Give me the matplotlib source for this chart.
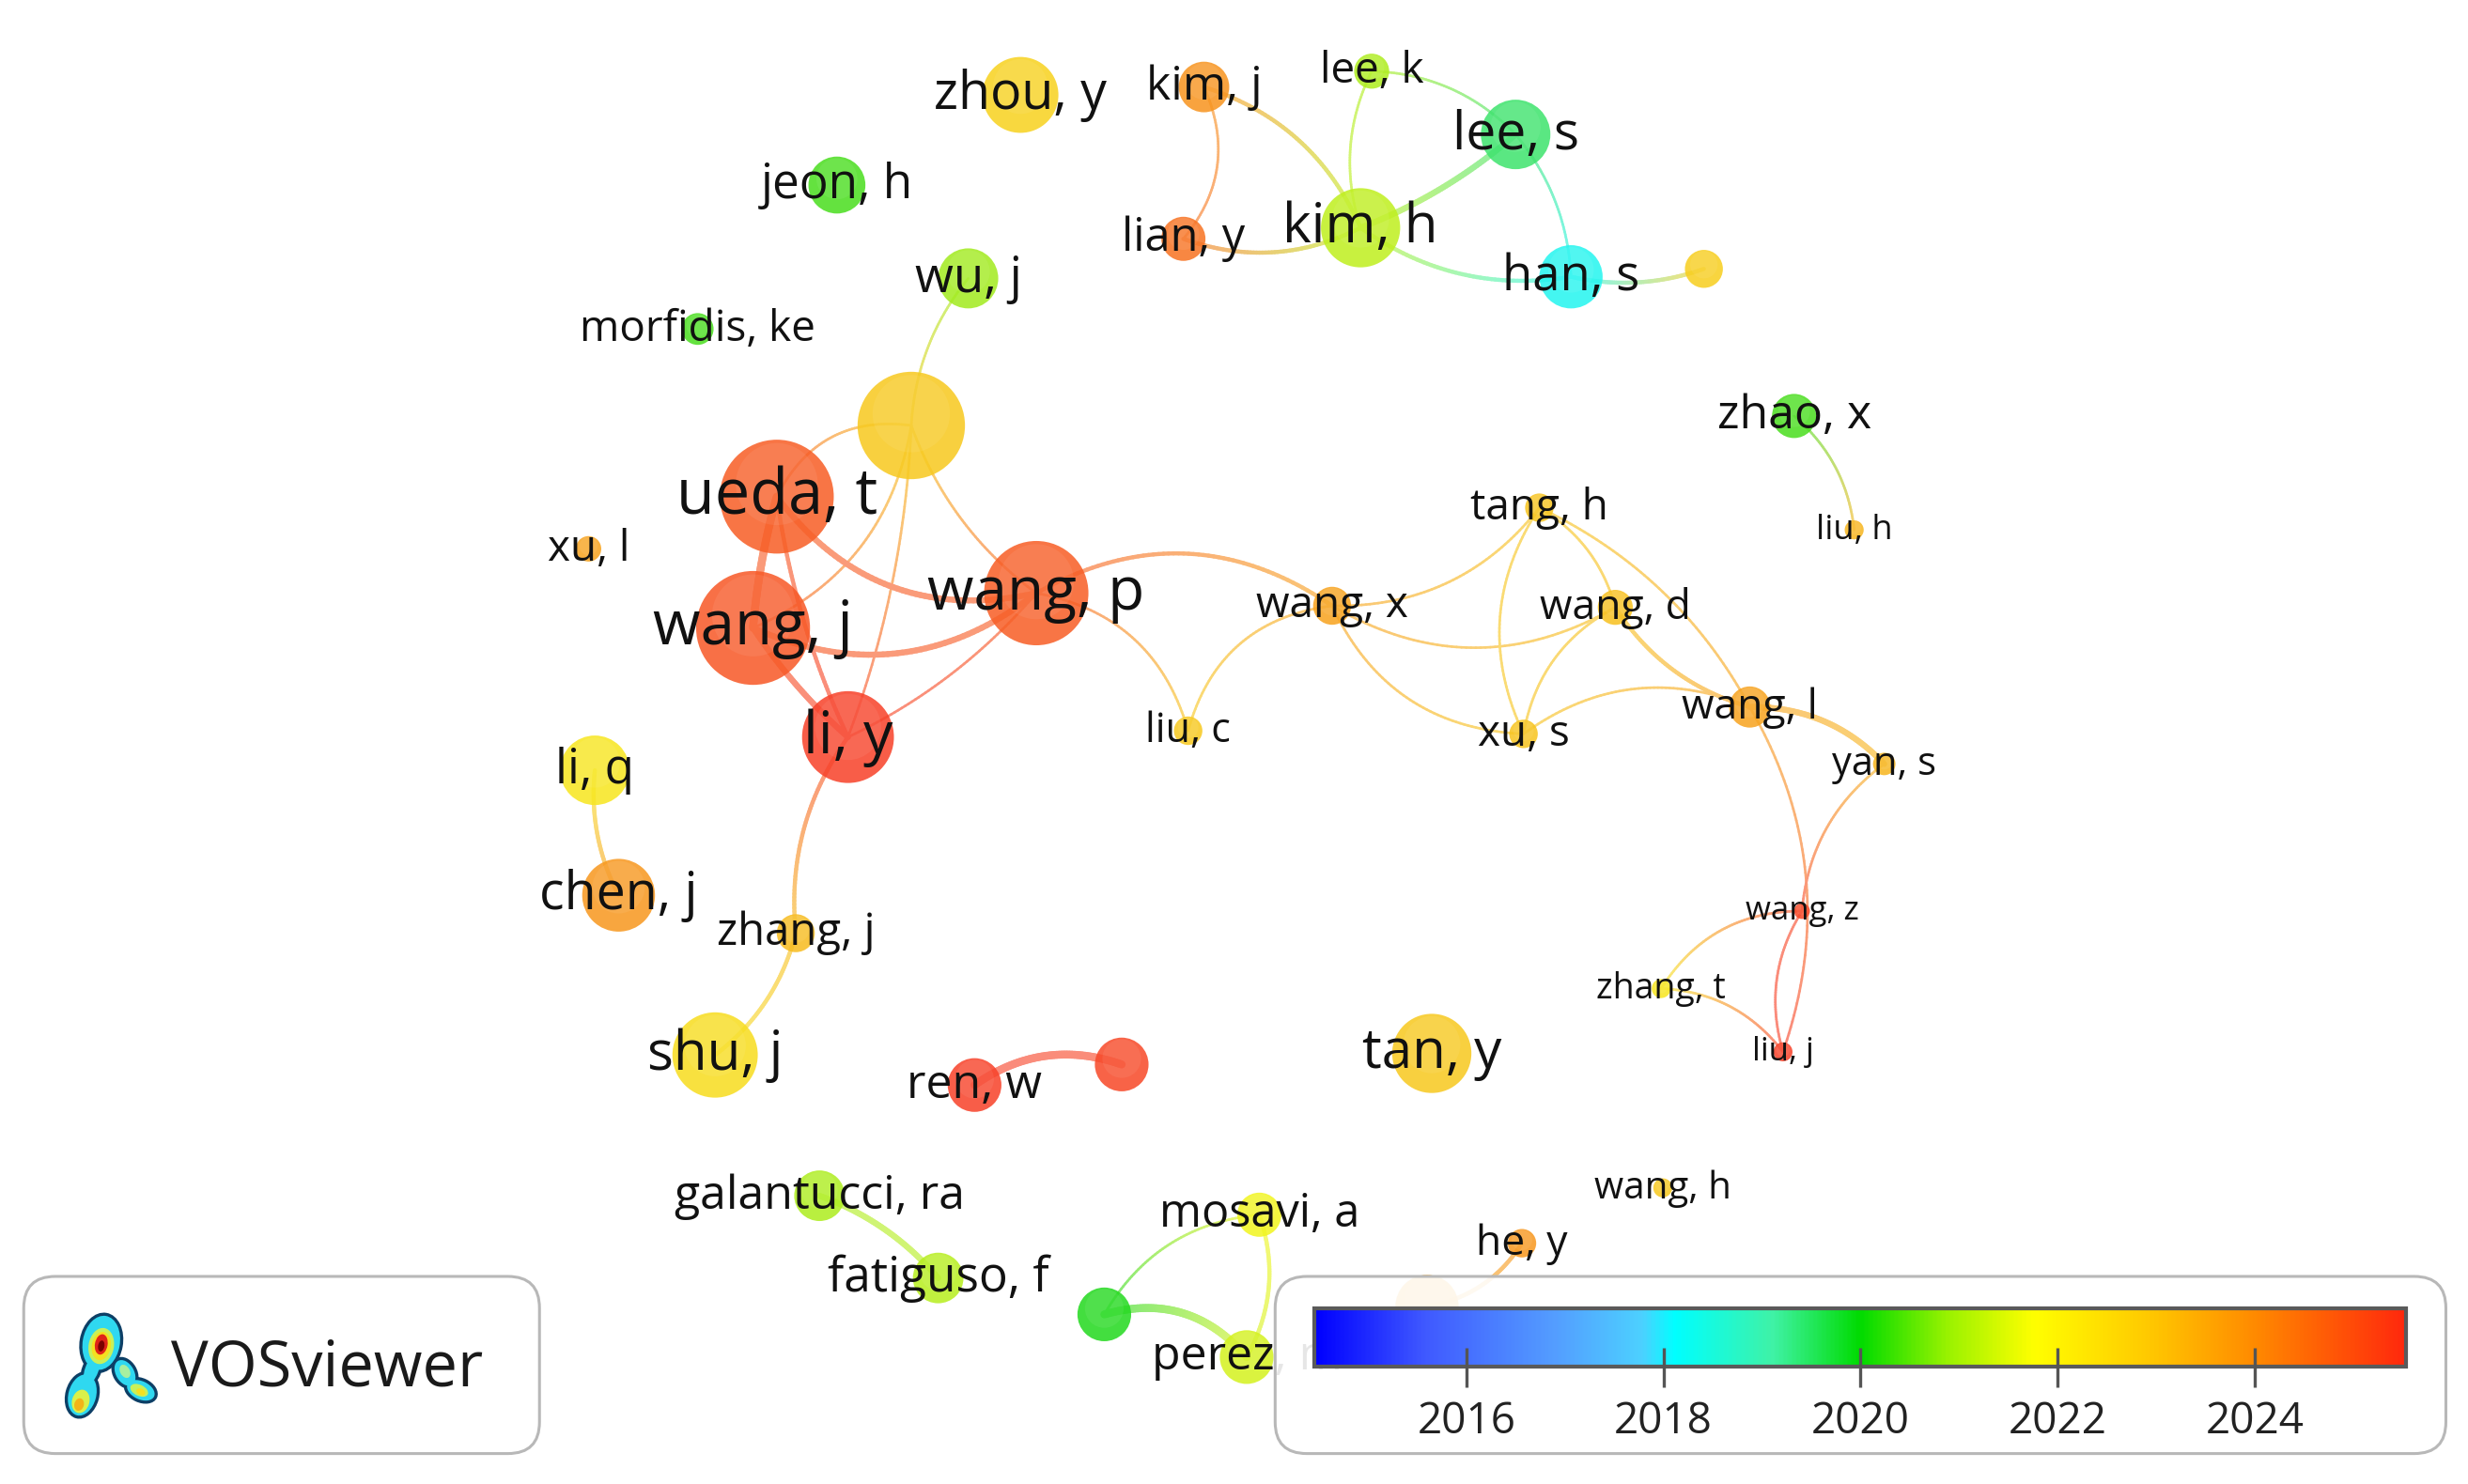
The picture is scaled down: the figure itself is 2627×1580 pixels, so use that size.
import numpy as np
import matplotlib
matplotlib.use("Agg")
import matplotlib.pyplot as plt
from matplotlib.patches import Circle, Ellipse, FancyBboxPatch, Rectangle
from matplotlib.collections import LineCollection
from matplotlib.colors import LinearSegmentedColormap

plt.rcParams['font.family'] = ['Open Sans', 'DejaVu Sans']

# ---------------- data (VOSviewer overlay: co-authorship, avg. publication year) ----------------
node_id = ["zhou, y", "kim, j", "lee, k", "lee, s", "jeon, h", "lian, y", "kim, h", "han, s", "U1",
           "wu, j", "morfidis, ke", "BIG", "zhao, x", "ueda, t", "tang, h", "liu, h", "xu, l",
           "wang, p", "wang, x", "wang, d", "wang, j", "wang, l", "liu, c", "xu, s", "li, y",
           "li, q", "yan, s", "chen, j", "wang, z", "zhang, j", "zhang, t", "liu, j", "shu, j",
           "tan, y", "ren, w", "R", "wang, h", "galantucci, ra", "mosavi, a", "he, y",
           "fatiguso, f", "G", "perez, m", "H"]
labels = ["zhou, y", "kim, j", "lee, k", "lee, s", "jeon, h", "lian, y", "kim, h", "han, s", "",
          "wu, j", "morfidis, ke", "", "zhao, x", "ueda, t", "tang, h", "liu, h", "xu, l",
          "wang, p", "wang, x", "wang, d", "wang, j", "wang, l", "liu, c", "xu, s", "li, y",
          "li, q", "yan, s", "chen, j", "wang, z", "zhang, j", "zhang, t", "liu, j", "shu, j",
          "tan, y", "ren, w", "", "wang, h", "galantucci, ra", "mosavi, a", "he, y",
          "fatiguso, f", "", "perez, m", ""]
# layout coordinates (map units)
node_x = [645, 761, 867, 958, 529, 748, 860, 993, 1077,
          612, 441, 576, 1134, 491, 973, 1172, 372,
          655, 842, 1021, 476, 1106, 751, 963, 536,
          376, 1191, 391, 1139, 503, 1050, 1127, 452,
          905, 616, 709, 1051, 518, 796, 962,
          593, 698, 788, 902]
node_y = [60, 55, 45, 85, 117, 151, 144, 175, 170,
          176, 208, 269, 263, 314, 321, 335, 347,
          375, 383, 384, 397, 447, 462, 464, 466,
          487, 483, 566, 576, 590, 625, 665, 667,
          666, 686, 673, 751, 756, 768, 786,
          808, 831, 858, 826]
# node weight (documents)
node_weight = [16, 7.1, 3.4, 13.4, 9, 5.4, 17.4, 11.1, 4,
               10, 2.8, 32, 5.4, 36, 2.25, 1, 1.8,
               30.2, 4, 3.4, 36, 4.7, 2.25, 2.25, 23.4,
               13.4, 1.4, 14.7, 0.7, 4, 1, 1, 20.2,
               17.4, 8, 8, 1, 7.1, 5.4, 2.25,
               7.1, 8, 8, 11.1]
avg_year = [2022.7, 2024.0, 2021.0, 2019.5, 2020.3, 2024.6, 2021.2, 2018.2, 2022.8,
            2020.9, 2020.3, 2022.9, 2020.3, 2025.0, 2023.0, 2023.3, 2023.7,
            2025.0, 2023.7, 2023.1, 2025.1, 2023.7, 2022.9, 2023.0, 2025.5,
            2022.2, 2023.3, 2023.9, 2025.4, 2023.2, 2022.2, 2025.5, 2022.4,
            2022.9, 2025.5, 2025.4, 2022.9, 2021.0, 2021.7, 2023.9,
            2021.1, 2020.0, 2021.4, 2023.6]
label_size = [40, 36, 33, 41, 37, 35, 42, 38, 0,
              38, 33, 0, 36, 48, 33, 26, 33,
              46, 33, 32, 47, 32, 31, 33, 45,
              37, 30, 40, 25, 34, 27, 25, 42,
              42, 36, 0, 29, 36, 35, 32,
              37, 0, 36, 0]

link_source = ["kim, j", "lian, y", "kim, j", "lee, k", "lee, k", "kim, h", "lee, s", "kim, h", "han, s",
               "wu, j", "BIG", "BIG", "BIG", "BIG", "ueda, t", "ueda, t", "wang, j", "wang, j",
               "ueda, t", "wang, p", "li, y", "zhang, j", "li, q", "wang, p", "wang, p", "wang, x",
               "wang, x", "wang, x", "wang, x", "tang, h", "tang, h", "tang, h", "wang, d", "wang, d",
               "xu, s", "wang, l", "wang, l", "yan, s", "wang, z", "wang, z", "zhang, t", "zhao, x",
               "ren, w", "galantucci, ra", "mosavi, a", "mosavi, a", "G", "he, y"]
link_target = ["lian, y", "kim, h", "kim, h", "kim, h", "lee, s", "lee, s", "han, s", "han, s", "U1",
               "BIG", "ueda, t", "wang, j", "li, y", "wang, p", "wang, j", "wang, p", "wang, p", "li, y",
               "li, y", "li, y", "zhang, j", "shu, j", "chen, j", "wang, x", "liu, c", "liu, c",
               "tang, h", "wang, d", "xu, s", "xu, s", "wang, d", "wang, l", "xu, s", "wang, l",
               "wang, l", "yan, s", "liu, j", "wang, z", "liu, j", "zhang, t", "liu, j", "liu, h",
               "R", "fatiguso, f", "G", "perez, m", "perez, m", "H"]
link_strength = [1, 2, 2, 1, 1, 3, 1, 2, 2,
                 1, 1, 1, 1, 1, 4, 3, 3, 3,
                 2, 1, 2, 2, 2, 2, 1, 1,
                 1, 1, 1, 1, 1, 1, 1, 2,
                 1, 3, 1, 1, 1, 1, 1, 1,
                 4, 3, 1, 2, 4, 2]

year_ticks = [2016, 2018, 2020, 2022, 2024]
year_min, year_max = 2014.46, 2025.54

# ---------------- styles ----------------
link_bend = [-15, 12, -15, 10, -10, 5, -8, 14, 6,
             8, 17, -22, -8, 10, 2, 28, 27, 3,
             6, -8, 12, -8, 6, -29, -20, 20,
             18, 26, 22, 20, -8, -15, 12, 10,
             -20, -10, -25, 12, 10, 14, -10, -8,
             -12, -6, 15, -10, -15, -8]

S = 1.684                      # output pixels per map unit
W, H = 2627 / S, 1580 / S

cmap = LinearSegmentedColormap.from_list("vos", [
    (0.00, (0.00, 0.00, 1.00)),
    (0.10, (0.25, 0.35, 1.00)),
    (0.22, (0.33, 0.62, 1.00)),
    (0.30, (0.30, 0.82, 1.00)),
    (0.33, (0.00, 1.00, 1.00)),
    (0.42, (0.25, 0.95, 0.65)),
    (0.50, (0.00, 0.86, 0.00)),
    (0.58, (0.60, 0.95, 0.00)),
    (0.66, (1.00, 1.00, 0.00)),
    (0.76, (1.00, 0.80, 0.00)),
    (0.86, (1.00, 0.55, 0.00)),
    (1.00, (1.00, 0.16, 0.05)),
])


def year_color(y):
    c = np.array(cmap((y - year_min) / (year_max - year_min))[:3])
    return 0.84 * c + 0.16 * np.array([0.80, 0.78, 0.76])


fig = plt.figure(figsize=(26.27, 15.80), dpi=100)
ax = fig.add_axes([0, 0, 1, 1])
ax.set_xlim(0, W)
ax.set_ylim(H, 0)
ax.axis("off")

idx = {n: i for i, n in enumerate(node_id)}
ncol = [year_color(y) for y in avg_year]
nrad = [6.0 * np.sqrt(w) for w in node_weight]

# ---- links ----
t = np.linspace(0, 1, 60)
for s, tg, st, bend in zip(link_source, link_target, link_strength, link_bend):
    i, j = idx[s], idx[tg]
    p0 = np.array([node_x[i], node_y[i]], float)
    p2 = np.array([node_x[j], node_y[j]], float)
    d = p2 - p0
    L = np.hypot(*d)
    nrm = np.array([-d[1], d[0]]) / L
    p1 = (p0 + p2) / 2 + 2 * bend * nrm
    pts = ((1 - t)[:, None] ** 2) * p0 + (2 * (1 - t) * t)[:, None] * p1 + (t[:, None] ** 2) * p2
    segs = np.stack([pts[:-1], pts[1:]], axis=1)
    tm = (t[:-1] + t[1:]) / 2
    cols = (1 - tm)[:, None] * ncol[i] + tm[:, None] * ncol[j]
    cols = 1 - 0.62 * (1 - cols)
    lw_units = {1: 1.6, 2: 2.6, 3: 3.8, 4: 5.0}[st]
    lc = LineCollection(segs, colors=cols, linewidths=lw_units * S * 0.72,
                        capstyle="round", zorder=1)
    ax.add_collection(lc)

# ---- nodes ----
for k in range(len(node_id)):
    ax.add_patch(Circle((node_x[k], node_y[k]), nrad[k], facecolor=ncol[k],
                        edgecolor="none", alpha=0.86, zorder=2))
    ax.add_patch(Circle((node_x[k], node_y[k] - 0.22 * nrad[k]), 0.72 * nrad[k],
                        facecolor="white", edgecolor="none", alpha=0.07, zorder=2))

# ---- labels ----
for k in range(len(node_id)):
    if not labels[k]:
        continue
    fs = label_size[k]
    em = fs * 100 / 72 / S
    ax.text(node_x[k], node_y[k] + 0.27 * em, labels[k], ha="center", va="baseline",
            fontsize=fs, color="#111111", zorder=3)

# ---- VOSviewer badge ----
ax.add_patch(FancyBboxPatch((15, 807), 326, 112, boxstyle="round,pad=0,rounding_size=20",
                            facecolor=(1, 1, 1, 0.92), edgecolor=(0.72, 0.72, 0.72, 1),
                            linewidth=2.2, zorder=5))
blobs = [((64, 849), 25, 36, 10), ((52, 882), 19, 28, 15), ((79, 868), 13, 19, -30),
         ((89, 879), 20, 13, 25), ((58, 866), 10, 22, 20)]
for (c, w, h, a) in blobs:
    ax.add_patch(Ellipse(c, w, h, angle=a, facecolor="#2fd8f0", edgecolor="#0d3f66",
                         linewidth=3.0, zorder=6))
for (c, w, h, a) in blobs:
    ax.add_patch(Ellipse(c, w - 1.5, h - 1.5, angle=a, facecolor="#2fd8f0",
                         edgecolor="none", zorder=6.1))
inner = [((64, 851), 16, 23, 10, "#c8f05a"), ((64, 851), 12, 18, 10, "#f5e020"),
         ((64, 850), 8, 13, 10, "#e02418"), ((64, 851), 4, 7, 10, "#7a0000"),
         ((51, 886), 11, 15, 15, "#d9f04a"), ((50, 888), 6, 8, 15, "#f2b418"),
         ((88, 879), 12, 7, 25, "#c8f05a"), ((89, 880), 6, 4, 25, "#f5e020"),
         ((79, 867), 6, 9, -30, "#a8f0a0")]
for (c, w, h, a, col) in inner:
    ax.add_patch(Ellipse(c, w, h, angle=a, facecolor=col, edgecolor="none", zorder=6.2))
ax.text(108, 876, "VOSviewer", ha="left", va="baseline", fontsize=48, color="#1a1a1a", zorder=7)

# ---- colour legend ----
ax.add_patch(FancyBboxPatch((806, 807), 740, 112, boxstyle="round,pad=0,rounding_size=20",
                            facecolor=(1, 1, 1, 0.9), edgecolor=(0.72, 0.72, 0.72, 1),
                            linewidth=2.2, zorder=5))
bx0, bx1, by0, by1 = 831, 1521, 827, 864
grad = np.linspace(0, 1, 512)[None, :]
ax.imshow(grad, cmap=cmap, extent=(bx0, bx1, by1, by0), aspect="auto", zorder=6,
          interpolation="bilinear")
ax.add_patch(Rectangle((bx0, by0), bx1 - bx0, by1 - by0, facecolor="none",
                       edgecolor="#5a5a5a", linewidth=3.0, zorder=6.5))
for yr in year_ticks:
    xx = bx0 + (yr - year_min) / (year_max - year_min) * (bx1 - bx0)
    ax.plot([xx, xx], [852, 877], color="#555555", linewidth=2.4, zorder=6.6,
            solid_capstyle="butt")
    ax.text(xx, 906, str(yr), ha="center", va="baseline", fontsize=33, color="#222222",
            zorder=7)

ax.set_xlim(0, W)
ax.set_ylim(H, 0)
fig.savefig("out.png", dpi=100, facecolor="white")
